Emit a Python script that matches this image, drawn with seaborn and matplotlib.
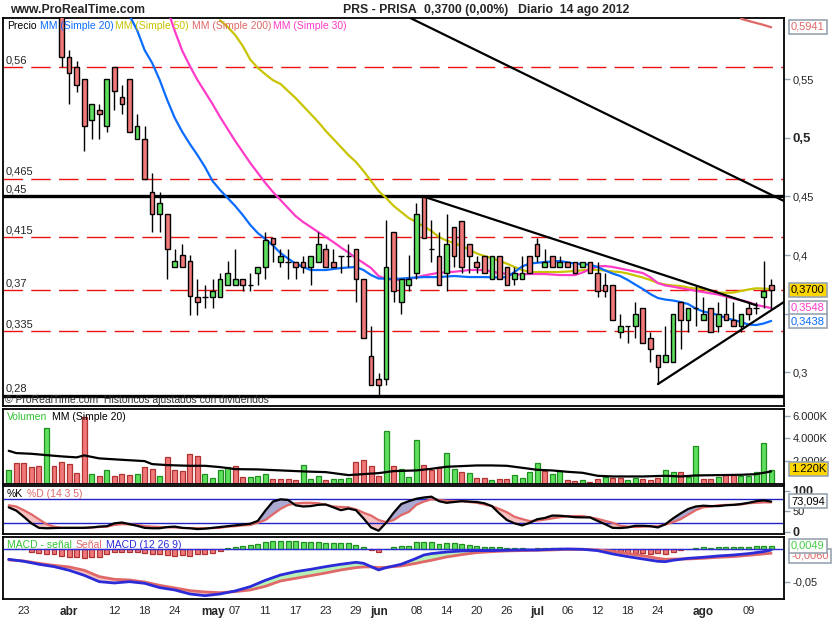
import numpy as np
import pandas as pd
import matplotlib
matplotlib.use("Agg")
import matplotlib.pyplot as plt
import seaborn as sns

sns.set_style("white")
plt.rcParams['font.family'] = ['Liberation Sans', 'DejaVu Sans']

NaN = np.nan

# sesiones de la bolsa, 21 mar - 14 ago 2012 (sin festivos)
festivos = pd.to_datetime(["2012-04-06", "2012-04-09", "2012-05-01"])
sesiones = pd.bdate_range("2012-03-21", "2012-08-14")
sesiones = sesiones[~sesiones.isin(festivos)]
x = np.arange(len(sesiones))

# velas (las 7 primeras quedan por encima del grafico)
apertura = [NaN] * 7 + [
    0.612, 0.569, 0.560, 0.550, 0.515, 0.524, 0.510, 0.560, 0.535, 0.550,
    0.499, 0.499, 0.454, 0.435, 0.435, 0.3897, 0.400, 0.3948, 0.3645, 0.3645,
    0.3645, 0.3645, 0.3744, 0.3744, 0.3795, 0.3744, 0.3844, 0.3895, 0.4142, 0.3943,
    0.3943, 0.3943, 0.3943, 0.3895, 0.3943, 0.4051, 0.3943, 0.3994, 0.3994, 0.4051,
    0.3795, 0.3141, 0.294, 0.294, 0.4193, 0.3597, 0.3744, 0.3844, 0.4492, 0.4048,
    0.3994, 0.3844, 0.4241, 0.4292, 0.4091, 0.3943, 0.3994, 0.3795, 0.3994, 0.3895,
    0.3795, 0.3795, 0.3994, 0.4091, 0.3895, 0.3994, 0.3895, 0.3943, 0.3943, 0.3895,
    0.3943, 0.3844, 0.3744, 0.3744, 0.334, 0.3394, 0.3394, 0.3545, 0.329, 0.3147,
    0.309, 0.309, 0.3597, 0.3446, 0.3545, 0.3446, 0.3545, 0.3394, 0.3494, 0.3446,
    0.3394, 0.3545, 0.3545, 0.3645, 0.3744]
maximo = [NaN] * 7 + [
    0.620, 0.575, 0.565, 0.550, 0.529, 0.529, 0.550, 0.560, 0.545, 0.550,
    0.520, 0.510, 0.470, 0.454, 0.435, 0.405, 0.4096, 0.400, 0.3795, 0.3744,
    0.3795, 0.3844, 0.3949, 0.4051, 0.3795, 0.3844, 0.3895, 0.4193, 0.4142, 0.4051,
    0.4051, 0.3943, 0.3994, 0.3994, 0.4193, 0.4091, 0.4051, 0.3994, 0.4091, 0.4051,
    0.3795, 0.3397, 0.2991, 0.4298, 0.4193, 0.3795, 0.400, 0.4446, 0.450, 0.4298,
    0.4193, 0.4347, 0.4241, 0.4292, 0.4091, 0.3994, 0.3994, 0.3994, 0.3994, 0.3895,
    0.3895, 0.3994, 0.3994, 0.4142, 0.4048, 0.3994, 0.3994, 0.3943, 0.3943, 0.3943,
    0.3943, 0.3943, 0.3844, 0.3744, 0.3494, 0.3394, 0.3597, 0.3545, 0.334, 0.3147,
    0.3394, 0.3494, 0.3597, 0.3545, 0.3744, 0.3645, 0.3545, 0.3597, 0.3645, 0.3597,
    0.3494, 0.3597, 0.3597, 0.3949, 0.3795]
minimo = [NaN] * 7 + [
    0.560, 0.529, 0.539, 0.489, 0.499, 0.499, 0.505, 0.524, 0.520, 0.505,
    0.499, 0.465, 0.420, 0.420, 0.3795, 0.3897, 0.3897, 0.3488, 0.349, 0.3545,
    0.3545, 0.3645, 0.3744, 0.3744, 0.3693, 0.3693, 0.3744, 0.3795, 0.3943, 0.3895,
    0.3795, 0.3795, 0.3844, 0.3744, 0.3943, 0.3895, 0.3895, 0.3844, 0.3895, 0.3597,
    0.329, 0.2892, 0.2806, 0.2892, 0.3597, 0.3494, 0.3693, 0.3795, 0.4142, 0.3943,
    0.3744, 0.3693, 0.3895, 0.3844, 0.3844, 0.3844, 0.3844, 0.3795, 0.3795, 0.3744,
    0.3744, 0.3795, 0.3844, 0.3943, 0.3895, 0.3895, 0.3895, 0.3895, 0.3844, 0.3895,
    0.3844, 0.3645, 0.3645, 0.3446, 0.329, 0.3247, 0.329, 0.3247, 0.309, 0.290,
    0.309, 0.309, 0.3196, 0.334, 0.3394, 0.3446, 0.334, 0.334, 0.3446, 0.3394,
    0.334, 0.3446, 0.3494, 0.3545, 0.3545]
cierre = [NaN] * 7 + [
    0.569, 0.555, 0.545, 0.510, 0.529, 0.520, 0.550, 0.5395, 0.529, 0.505,
    0.510, 0.465, 0.435, 0.444, 0.405, 0.3948, 0.3897, 0.3647, 0.3597, 0.3645,
    0.3693, 0.3795, 0.3844, 0.3795, 0.3744, 0.3744, 0.3895, 0.4128, 0.4091, 0.3994,
    0.3943, 0.3895, 0.3895, 0.3994, 0.4091, 0.3895, 0.3895, 0.3994, 0.3994, 0.3795,
    0.329, 0.2892, 0.2892, 0.3895, 0.3693, 0.3795, 0.3795, 0.4347, 0.4142, 0.4048,
    0.3744, 0.4091, 0.3994, 0.3895, 0.3994, 0.3895, 0.3844, 0.3994, 0.3795, 0.3744,
    0.3844, 0.3844, 0.3844, 0.3994, 0.3943, 0.3895, 0.3943, 0.3895, 0.3844, 0.3943,
    0.3844, 0.3693, 0.3693, 0.3446, 0.3394, 0.3394, 0.3494, 0.3247, 0.3196, 0.3042,
    0.3147, 0.3494, 0.3446, 0.3545, 0.3545, 0.3494, 0.334, 0.3494, 0.3446, 0.3394,
    0.3494, 0.3494, 0.3545, 0.3693, 0.3700]

# medias moviles del precio
x_mm20 = [16, 17, 18, 19, 20, 21, 22, 23, 24, 25, 26, 27, 28, 29, 30, 31, 32, 33, 34, 35,
          36, 37, 38, 39, 40, 42, 44, 46, 47, 48, 49, 51, 53, 55, 57, 59, 61, 63, 65, 66,
          67, 68, 69, 71, 73, 75, 77, 78, 79, 80, 81, 82, 83, 84, 85, 86, 87, 88, 89, 90,
          91, 92, 93, 94, 95, 96, 97, 98, 99, 100, 101]
mm20 = [0.604, 0.5918, 0.5747, 0.5637, 0.5492, 0.5321, 0.5168, 0.5048, 0.4946, 0.4852,
        0.475, 0.4631, 0.4554, 0.4486, 0.4418, 0.4341, 0.4256, 0.4187, 0.4136, 0.4081,
        0.4017, 0.397, 0.3927, 0.3898, 0.3872, 0.3872, 0.3889, 0.3898, 0.3872, 0.3829,
        0.380, 0.3795, 0.3804, 0.3812, 0.3812, 0.3821, 0.3812, 0.3812, 0.3808, 0.3812,
        0.3855, 0.3902, 0.3927, 0.394, 0.3949, 0.3927, 0.3917, 0.3898, 0.3868, 0.3842,
        0.3821, 0.3787, 0.3748, 0.371, 0.3667, 0.3633, 0.362, 0.3612, 0.3599, 0.3582,
        0.3544, 0.3518, 0.3505, 0.3488, 0.3463, 0.3446, 0.3429, 0.3407, 0.3403, 0.3416,
        0.3438]
x_mm30 = [21, 22, 23, 24, 25, 26, 27, 28, 29, 30, 31, 32, 33, 34, 35, 36, 37, 38, 39, 40,
          41, 42, 43, 44, 45, 46, 47, 48, 49, 50, 52, 53, 55, 57, 59, 61, 63, 64, 65, 67,
          69, 71, 73, 75, 76, 77, 78, 79, 80, 81, 82, 83, 84, 85, 86, 87, 88, 90, 92, 94,
          96, 98, 99, 100, 101]
mm30 = [0.610, 0.591, 0.5739, 0.5611, 0.5492, 0.539, 0.5287, 0.5176, 0.5074, 0.4972,
        0.4878, 0.4784, 0.4699, 0.4614, 0.4537, 0.4469, 0.440, 0.4332, 0.4281, 0.4239,
        0.4196, 0.4153, 0.4111, 0.4064, 0.4021, 0.3974, 0.3932, 0.3889, 0.3821, 0.3795,
        0.3787, 0.3795, 0.3825, 0.3849, 0.3857, 0.3872, 0.3872, 0.3859, 0.3846, 0.3832,
        0.3838, 0.3838, 0.3829, 0.3829, 0.385, 0.388, 0.3902, 0.3906, 0.3898, 0.3885,
        0.3872, 0.3859, 0.3846, 0.381, 0.3761, 0.374, 0.373, 0.3706, 0.3684, 0.3663,
        0.3629, 0.3599, 0.3574, 0.3561, 0.3548]
x_mm50 = [28, 29, 30, 31, 32, 33, 34, 35, 36, 37, 38, 39, 40, 41, 42, 43, 44, 45, 46, 47,
          48, 49, 50, 51, 52, 53, 54, 55, 56, 57, 58, 59, 60, 61, 62, 63, 64, 65, 66, 67,
          68, 69, 71, 73, 75, 77, 78, 79, 80, 81, 82, 83, 84, 85, 86, 87, 88, 89, 90, 91,
          92, 93, 94, 95, 96, 97, 98, 99, 100, 101]
mm50 = [0.600, 0.5944, 0.5875, 0.5782, 0.5665, 0.5595, 0.554, 0.549, 0.5458, 0.5398,
        0.5338, 0.527, 0.5202, 0.5134, 0.5057, 0.4989, 0.4921, 0.4852, 0.4793, 0.4716,
        0.4631, 0.4545, 0.4486, 0.4418, 0.4366, 0.4315, 0.4281, 0.4243, 0.4204, 0.4153,
        0.4123, 0.4102, 0.4077, 0.4047, 0.4013, 0.3991, 0.3974, 0.3949, 0.3926, 0.3898,
        0.3872, 0.3855, 0.3855, 0.3855, 0.3864, 0.3876, 0.3872, 0.3868, 0.3859, 0.3855,
        0.3842, 0.3825, 0.3808, 0.3787, 0.3761, 0.3748, 0.374, 0.3736, 0.3723, 0.3714,
        0.371, 0.3693, 0.368, 0.3678, 0.368, 0.3693, 0.3706, 0.3716, 0.3714, 0.371]
x_mm200 = [97, 98, 99, 100, 101]
mm200 = [0.6013, 0.5995, 0.5978, 0.5961, 0.5941]

# niveles y lineas de tendencia (indice de sesion, precio)
niveles_rojos = [0.56, 0.465, 0.415, 0.37, 0.335]
niveles_negros = [0.45, 0.28]
etiquetas_niveles = {0.56: "0,56", 0.465: "0,465", 0.45: "0,45", 0.415: "0,415",
                     0.37: "0,37", 0.335: "0,335", 0.28: "0,28"}
tendencias = [([53.2, 102.7], [0.602, 0.446]),
              ([55.0, 99.1], [0.4497, 0.357]),
              ([86.0, 102.7], [0.290, 0.360])]

# volumen (miles) y color de cada barra
volumen = [1210, 1800, 1800, 1446, 1533, 4890, 1533, 1886, 1710, 918,
           5900, 830, 653, 1183, 653, 830, 742, 830, 1446, 1270,
           653, 2330, 1183, 1095, 2596, 2420, 830, 477, 1183, 1446,
           1533, 565, 565, 653, 830, 388, 388, 388, 300, 1625,
           388, 653, 300, 388, 388, 477, 1886, 2066, 1533, 653,
           4627, 1533, 1270, 565, 3830, 1625, 1183, 1446, 2684, 1270,
           1006, 918, 477, 477, 300, 388, 388, 742, 477, 1006,
           1800, 1095, 830, 1095, 300, 212, 300, 124, 388, 565,
           477, 477, 300, 477, 388, 300, 477, 1183, 1006, 1006,
           565, 3300, 388, 388, 565, 742, 742, 653, 653, 1006,
           3566, 1220]
color_volumen = ("grrrrgrrrr" "rgrgrrrgrr" "grrrrrgggg" "rrgggrrrrg" "ggrgggrrrr"
                 "grgggrrrgg" "rgrrgrrggg" "grggrrgrrg" "rrggrrrggr" "ggrrgrrggg" "gg")
x_mm_vol = [0, 1, 3, 5, 7, 9, 10, 12, 15, 18, 19, 21, 24, 26, 28, 30, 33, 36, 39, 42,
            45, 47, 49, 51, 54, 56, 58, 60, 62, 64, 66, 68, 70, 72, 74, 76, 78, 80, 84, 87,
            89, 91, 94, 97, 99, 101]
mm_vol = [2914, 2711, 2650, 2532, 2420, 2332, 2508, 2243, 2120, 2004,
          1740, 1651, 1590, 1590, 1475, 1298, 1271, 1183, 1095, 1033,
          768, 856, 945, 1121, 1183, 1327, 1504, 1563, 1622, 1622,
          1590, 1415, 1239, 1180, 1062, 974, 709, 650, 650, 709,
          650, 739, 768, 797, 856, 1092]

# estocastico %K / %D
estoc_k = [59, 51, 36, 20, 9, 8, 8.5, 9, 9, 9, 9, 10, 12, 13, 20, 22, 18, 14, 9, 8,
           8, 11, 12, 9, 8, 6, 7, 9, 11, 13, 15, 17, 19, 26, 51, 73, 78.5, 77, 64, 61,
           62, 65, 66, 59, 52, 56, 52, 32, 10, 2, 21.5, 46, 67, 74, 80, 83, 85, 74, 70, 72,
           74, 73, 72, 69, 62, 44, 28, 20, 15, 21, 30, 33, 39, 38.6, 37, 35, 34.5, 34.5, 26, 18,
           9, 8.5, 10, 14, 14, 13, 10, 18, 32, 44, 55, 61, 63, 62, 62, 64, 65, 67, 70, 74,
           76, 73.094]
estoc_d = [64, 61, 52, 42, 30, 18, 12, 9, 9, 9, 9, 10, 11, 12, 16, 18, 17.5, 16, 13, 12,
           11, 10, 10, 8.5, 8.5, 8, 8, 8.5, 9, 12, 13, 15, 16, 21.5, 28, 42, 55, 64.6, 68.7, 70,
           70, 69, 65, 61, 60, 59, 54, 46, 39, 28, 23, 28, 40, 48, 65, 73, 78.5, 77, 75, 74,
           74, 72, 70, 66, 62, 55, 47, 36, 30.5, 25.6, 26.4, 29, 32, 35, 37, 37.8, 37.8, 34.5, 31, 26,
           21.5, 14, 12, 11, 12, 12.6, 13, 17, 23, 30, 41, 52, 59, 61, 64, 65, 65, 66, 69, 70,
           71, 71]

# MACD (12 26 9)
x_macd = [0, 2, 4, 6, 8, 10, 12, 14, 16, 18, 20, 22, 24, 26, 28, 30, 32, 34, 36, 38,
          40, 42, 44, 46, 47, 48, 49, 50, 52, 54, 55, 56, 58, 60, 62, 64, 66, 68, 70, 72,
          74, 76, 78, 80, 82, 84, 86, 87, 88, 90, 92, 94, 96, 98, 100, 101]
macd = [-0.0158, -0.0189, -0.0234, -0.027, -0.0326, -0.0403, -0.050, -0.052, -0.050, -0.0525,
        -0.0591, -0.0627, -0.0688, -0.0714, -0.0688, -0.0642, -0.0576, -0.0479, -0.0398, -0.0347,
        -0.0311, -0.027, -0.0234, -0.0204, -0.0219, -0.027, -0.0321, -0.0285, -0.0234, -0.0143,
        -0.0092, -0.0071, -0.0046, -0.003, -0.0025, -0.0025, -0.002, -0.0015, -0.0015, -0.0005,
        0.0, -0.0005, -0.0025, -0.0076, -0.0117, -0.0153, -0.0189, -0.0194, -0.0173, -0.0143,
        -0.0127, -0.0107, -0.0092, -0.0071, -0.0041, -0.0015]
senal = [-0.0168, -0.0183, -0.0219, -0.025, -0.0275, -0.0326, -0.0423, -0.0464, -0.0474, -0.0505,
         -0.0556, -0.0596, -0.0637, -0.0657, -0.0668, -0.0652, -0.0627, -0.0571, -0.0489, -0.0449,
         -0.0408, -0.0367, -0.0321, -0.0285, -0.0275, -0.0275, -0.0285, -0.028, -0.026, -0.0219,
         -0.0194, -0.0173, -0.0122, -0.0087, -0.0056, -0.0041, -0.003, -0.0025, -0.002, -0.0015,
         -0.0005, -0.0005, -0.0015, -0.0036, -0.0071, -0.0102, -0.0143, -0.0158, -0.0153, -0.0153,
         -0.0143, -0.0127, -0.0117, -0.0097, -0.0076, -0.0066]
histograma = [0, 0, 0, -0.0041, -0.0066, -0.0076, -0.0082, -0.0102, -0.0117, -0.0127,
              -0.0143, -0.0117, -0.0117, -0.0082, -0.0051, -0.0041, -0.0041, -0.0041, -0.0066, -0.0076,
              -0.0076, -0.0092, -0.0102, -0.0092, -0.0102, -0.0076, -0.0076, -0.0056, -0.0025, 0.001,
              0.0031, 0.0046, 0.0056, 0.0076, 0.0102, 0.0117, 0.0117, 0.0117, 0.0117, 0.0102,
              0.0102, 0.0102, 0.0097, 0.0087, 0.0087, 0.0087, 0.0066, 0.0031, -0.002, -0.0051,
              0, 0.0031, 0.0046, 0.0051, 0.0102, 0.0102, 0.0102, 0.0071, 0.0087, 0.0087,
              0.0071, 0.0056, 0.0046, 0.0031, 0.0031, 0.0031, 0.0015, 0.0015, 0.0015, 0,
              0.0015, 0.0015, 0.0015, 0.0015, 0.0005, 0.0005, 0, 0, -0.0005, -0.002,
              -0.0041, -0.0056, -0.0066, -0.0066, -0.0066, -0.0076, -0.0066, -0.0076, -0.0041, -0.002,
              0, 0.0015, 0.0031, 0.0015, 0.0031, 0.0031, 0.0031, 0.0031, 0.0031, 0.0046,
              0.0046, 0.0049]

# etiquetas del eje de fechas
fechas_eje = ["2012-03-23", "2012-04-02", "2012-04-12", "2012-04-18", "2012-04-24",
              "2012-05-02", "2012-05-07", "2012-05-11", "2012-05-17", "2012-05-23",
              "2012-05-29", "2012-06-01", "2012-06-08", "2012-06-14", "2012-06-20",
              "2012-06-26", "2012-07-02", "2012-07-06", "2012-07-12", "2012-07-18",
              "2012-07-24", "2012-08-01", "2012-08-09"]
meses = {4: "abr", 5: "may", 6: "jun", 7: "jul", 8: "ago"}

# colores
VERDE, ROJO = "#5ee05e", "#f07878"
AZUL, AMARILLO, SALMON, MAGENTA = "#0a6cff", "#c8c400", "#e06868", "#ff3cc8"
AZUL_MACD = "#2b2bd8"
BORDE = "#98a4b0"

W, H = 835, 620
fig = plt.figure(figsize=(W / 100, H / 100), dpi=100)


def panel(x0, y0, x1, y1):
    ax = fig.add_axes([x0 / W, 1 - y1 / H, (x1 - x0) / W, (y1 - y0) / H])
    ax.set_xlim(-0.755, 102.7)
    ax.yaxis.tick_right()
    ax.set_xticks([])
    for s in ax.spines.values():
        s.set_color("black")
        s.set_linewidth(1.3)
    ax.tick_params(axis="y", length=4, width=1, color=BORDE, labelsize=8, pad=2)
    return ax


def ftext(xp, yp, s, **kw):
    kw.setdefault("va", "center")
    kw.setdefault("fontsize", 7.5)
    return fig.text(xp / W, 1 - yp / H, s, **kw)


ax_p = panel(3, 18, 784, 406)
ax_v = panel(3, 409, 784, 484)
ax_s = panel(3, 486, 784, 534)
ax_m = panel(3, 537, 784, 599)

# ---- precio ----
o, h, l, c = map(np.array, (apertura, maximo, minimo, cierre))
ok = ~np.isnan(c)
for nivel in niveles_rojos:
    ax_p.axhline(nivel, color="#ee1111", lw=1.0, dashes=(14, 6), zorder=1)
for nivel in niveles_negros:
    ax_p.axhline(nivel, color="black", lw=2.4, zorder=1)
for nivel, txt in etiquetas_niveles.items():
    ax_p.annotate(txt, xy=(0.003, nivel), xycoords=("axes fraction", "data"),
                  xytext=(0, 1.5), textcoords="offset points", fontsize=8, va="bottom")

for nombre, xs, ys, col in [("mm50", x_mm50, mm50, AMARILLO), ("mm30", x_mm30, mm30, MAGENTA),
                            ("mm20", x_mm20, mm20, AZUL), ("mm200", x_mm200, mm200, SALMON)]:
    sns.lineplot(x=xs, y=ys, ax=ax_p, color=col, lw=1.6, zorder=3, legend=False)

ax_p.vlines(x[ok], l[ok], h[ok], color="black", lw=1.0, zorder=4)
col_vela = np.where(c > o, VERDE, np.where(c < o, ROJO, "black"))
cuerpo = ok & (np.abs(c - o) > 1e-9)
ax_p.bar(x[cuerpo], np.abs(c - o)[cuerpo], bottom=np.minimum(o, c)[cuerpo], width=0.62,
         color=col_vela[cuerpo], edgecolor="black", lw=1.0, zorder=5)
doji = ok & ~cuerpo
ax_p.hlines(c[doji], x[doji] - 0.35, x[doji] + 0.35, color="black", lw=1.0, zorder=5)

for xs, ys in tendencias:
    ax_p.plot(xs, ys, color="black", lw=1.6, zorder=6)

ax_p.set_ylim(0.2713, 0.602)
# 0,35 queda tapado por las cajas de valores: solo la marca
ax_p.set_yticks([0.30, 0.35, 0.40, 0.45, 0.50, 0.55])
ax_p.set_yticklabels(["0,3", "", "0,4", "0,45", "0,5", "0,55"])
for t in ax_p.get_yticklabels():
    if t.get_text() == "0,5":
        t.set_fontweight("bold")
        t.set_fontsize(9.5)

# ---- volumen ----
fondo = [VERDE if k == "g" else ROJO for k in color_volumen]
borde = ["#1f8f1f" if k == "g" else "#b03333" for k in color_volumen]
ax_v.bar(x, volumen, width=0.66, color=fondo, edgecolor=borde, lw=0.9, zorder=2)
sns.lineplot(x=x_mm_vol, y=mm_vol, ax=ax_v, color="black", lw=1.6, zorder=3, legend=False)
ax_v.set_ylim(-15, 6600)
ax_v.set_yticks([2000, 4000, 6000])
ax_v.set_yticklabels(["2.000K", "4.000K", "6.000K"])

# ---- estocastico ----
k = np.array(estoc_k)
d = np.array(estoc_d)
ax_s.fill_between(x, k, d, where=k >= d, interpolate=True, color="#a9a9d2", lw=0, zorder=1)
ax_s.fill_between(x, k, d, where=k < d, interpolate=True, color="#f6c2c2", lw=0, zorder=1)
ax_s.axhline(80, color="#2222c8", lw=1.0, zorder=2)
ax_s.axhline(20, color="#2222c8", lw=1.0, zorder=2)
sns.lineplot(x=x, y=d, ax=ax_s, color=SALMON, lw=1.6, zorder=3, legend=False)
sns.lineplot(x=x, y=k, ax=ax_s, color="black", lw=1.6, zorder=4, legend=False)
ax_s.set_ylim(-6, 111)
ax_s.set_yticks([0, 50, 100])
ax_s.set_yticklabels(["0", "50", "100"])
for t in ax_s.get_yticklabels():
    if t.get_text() in ("0", "100"):
        t.set_fontweight("bold")
        t.set_fontsize(9)

# ---- MACD ----
hist = np.array(histograma)
ax_m.bar(x, hist, width=0.66, color=np.where(hist >= 0, VERDE, ROJO),
         edgecolor=np.where(hist >= 0, "#1f8f1f", "#b03333"), lw=0.9, zorder=1)
ax_m.axhline(0, color=AZUL_MACD, lw=1.0, zorder=2)
mv = np.array(macd)
sv = np.array(senal)
ax_m.fill_between(x_macd, mv, sv, where=mv >= sv, interpolate=True, color="#b6f2b6", lw=0, zorder=2)
ax_m.fill_between(x_macd, mv, sv, where=mv < sv, interpolate=True, color="#f6c2c2", lw=0, zorder=2)
sns.lineplot(x=x_macd, y=sv, ax=ax_m, color=SALMON, lw=2.0, zorder=3, legend=False)
sns.lineplot(x=x_macd, y=mv, ax=ax_m, color=AZUL_MACD, lw=2.0, zorder=4, legend=False)
ax_m.set_ylim(-0.0765, 0.0183)
ax_m.set_yticks([-0.05])
ax_m.set_yticklabels(["-0,05"])

# eje de fechas
pos = [sesiones.get_loc(pd.Timestamp(f)) for f in fechas_eje]
etq = []
for f in fechas_eje:
    t = pd.Timestamp(f)
    primera = sesiones[sesiones.month == t.month][0] == t
    etq.append(meses[t.month] if primera and t.month != 3 else f"{t.day:02d}")
ax_m.set_xticks(pos)
ax_m.set_xticklabels(etq)
ax_m.tick_params(axis="x", length=0, pad=5, labelsize=8)
for t in ax_m.get_xticklabels():
    if t.get_text() in meses.values():
        t.set_fontweight("bold")
        t.set_fontsize(8.5)

for ax in (ax_p, ax_v, ax_s, ax_m):
    ax.set_xlabel("")
    ax.set_ylabel("")

# ---- textos ----
ftext(10, 10, "www.ProRealTime.com", fontsize=8.8, weight="bold")
ftext(343, 10, "PRS - PRISA", fontsize=8.8, weight="bold")
ftext(424, 10, "0,3700 (0,00%)", fontsize=8.8, weight="bold")
ftext(518, 10, "Diario  14 ago 2012", fontsize=8.8, weight="bold")

ftext(7, 26, "Precio", color="black")
ftext(40, 26, "MM (Simple 20)", color=AZUL)
ftext(115, 26, "MM (Simple 50)", color=AMARILLO)
ftext(192, 26, "MM (Simple 200)", color=SALMON)
ftext(273, 26, "MM (Simple 30)", color=MAGENTA)
ftext(5, 400, "\u00a9 ProRealTime.com  Historicos ajustados con dividendos", color="#303030")

ftext(7, 417, "Volumen", color="#33c433")
ftext(52, 417, "MM (Simple 20)", color="black")
ftext(7, 494, "%K", color="black")
ftext(27, 494, "%D (14 3 5)", color=SALMON)
ftext(7, 545, "MACD - se\u00f1al", color="#33c433")
ftext(76, 545, "Se\u00f1al", color=SALMON)
ftext(106, 545, "MACD (12 26 9)", color=AZUL_MACD)

# cajas con el ultimo valor
cajas = [(26.7, "0,5941", SALMON, "white"),
         (290, "0,3700", "black", "#ffd700"),
         (307.5, "0,3548", MAGENTA, "white"),
         (321, "0,3438", AZUL, "white"),
         (469, "1.220K", "black", "#ffd700"),
         (501, "73,094", "black", "white"),
         (556, "-0,0060", SALMON, "white"),
         (546, "0,0049", "#44cc44", "white")]
for yp, txt, col, fc in cajas:
    ftext(791, yp, txt, color=col, fontsize=8,
          bbox=dict(boxstyle="square,pad=0.18", fc=fc, ec=BORDE, lw=1.2))

fig.savefig("out.png", dpi=100)
